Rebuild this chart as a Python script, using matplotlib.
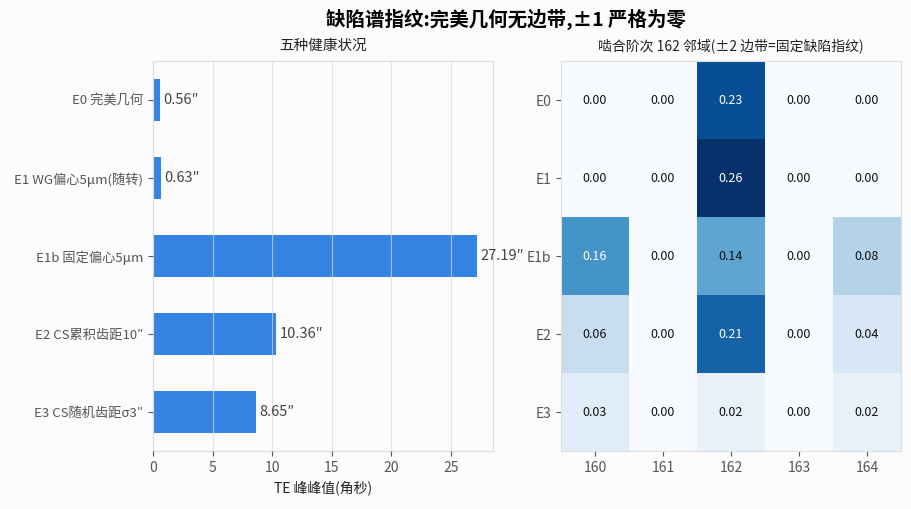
import numpy as np
import matplotlib
matplotlib.use("Agg")
import matplotlib.pyplot as plt

plt.rcParams['font.family'] = ['Noto Sans CJK SC', 'DejaVu Sans']
plt.rcParams['axes.unicode_minus'] = False

# 数据
cases = ["E0 完美几何", "E1 WG偏心5μm(随转)", "E1b 固定偏心5μm",
         "E2 CS累积齿距10\u2033", "E3 CS随机齿距σ3\u2033"]
te_pp = [0.56, 0.63, 27.19, 10.36, 8.65]

rows = ["E0", "E1", "E1b", "E2", "E3"]
orders = [160, 161, 162, 163, 164]
amp = np.array([
    [0.00, 0.00, 0.23, 0.00, 0.00],
    [0.00, 0.00, 0.26, 0.00, 0.00],
    [0.16, 0.00, 0.14, 0.00, 0.08],
    [0.06, 0.00, 0.21, 0.00, 0.04],
    [0.03, 0.00, 0.02, 0.00, 0.02],
])

bg = '#fcfcfc'
tick_c = '#555555'
spine_c = '#dddddd'

fig = plt.figure(figsize=(9.12, 5.09), dpi=100, facecolor=bg)
ax1 = fig.add_axes([153/912, 1-451/509, 340/912, 390/509], facecolor=bg)
ax2 = fig.add_axes([561/912, 1-451/509, 340/912, 390/509], facecolor=bg)

fig.text(0.555, 0.962, "缺陷谱指纹:完美几何无边带,±1 严格为零", fontsize=14,
         fontweight='bold', ha='center', va='center')

# 左图 条形
y = np.arange(len(cases))
ax1.barh(y, te_pp, height=0.55, color='#3584e4', zorder=2)
ax1.set_yticks(y)
ax1.set_yticklabels(cases)
ax1.set_xlim(0, max(te_pp) * 1.05)
ax1.set_ylim(len(cases) - 0.5, -0.5)
ax1.xaxis.grid(True, color='#d8d8d8', linewidth=0.8, alpha=0.7, zorder=3)
ax1.set_axisbelow(False)
for yi, v in zip(y, te_pp):
    ax1.text(v + 0.3, yi, f"{v:.2f}\u2033", va='center', ha='left',
             fontsize=10.5, color='#444444', zorder=4)
ax1.set_xlabel("TE 峰峰值(角秒)", fontsize=10, color='#222222', labelpad=4)
ax1.set_title("五种健康状况", fontsize=10.5, color='#222222', pad=8)

# 右图 热图
im = ax2.imshow(amp, cmap='Blues', aspect='auto', vmin=0, vmax=amp.max())
ax2.set_xticks(np.arange(len(orders)))
ax2.set_xticklabels([str(o) for o in orders])
ax2.set_yticks(np.arange(len(rows)))
ax2.set_yticklabels(rows)
for i in range(amp.shape[0]):
    for j in range(amp.shape[1]):
        v = amp[i, j]
        ax2.text(j, i, f"{v:.2f}", ha='center', va='center', fontsize=9,
                 color='white' if v > 0.6 * amp.max() else '#111111')
ax2.set_title("啮合阶次 162 邻域(±2 边带=固定缺陷指纹)", fontsize=10,
              color='#222222', pad=8)

for ax in (ax1, ax2):
    for s in ax.spines.values():
        s.set_color(spine_c)
    ax.tick_params(colors=tick_c, labelsize=10, length=3.5, width=0.8)
ax1.tick_params(axis='y', labelsize=9.5)

fig.savefig("out.png", dpi=100, facecolor=bg)
